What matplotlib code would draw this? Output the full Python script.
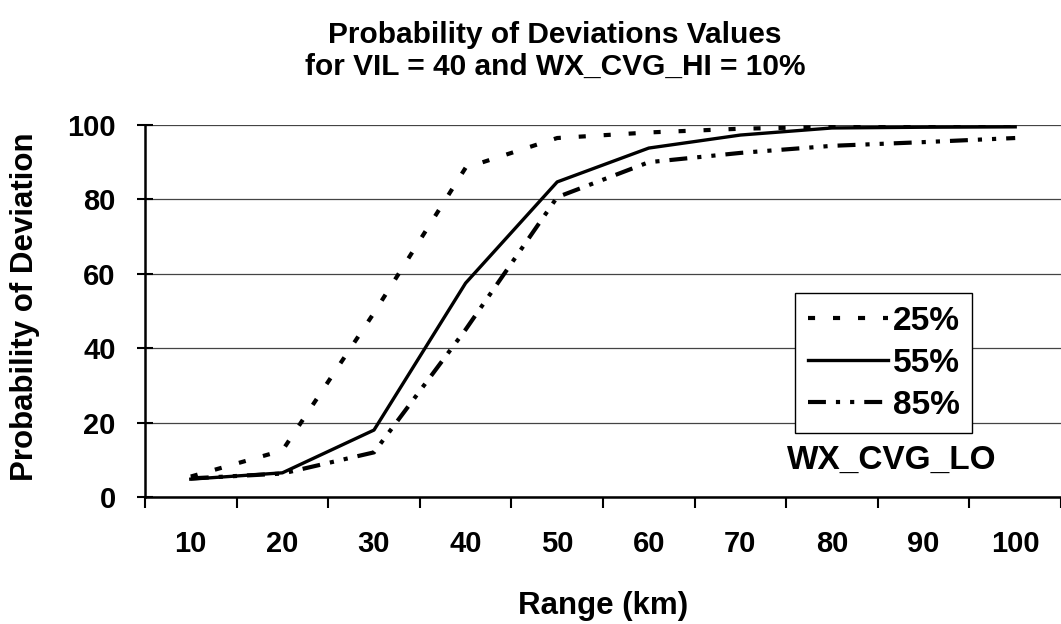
import matplotlib
matplotlib.use("Agg")
import matplotlib.pyplot as plt
from matplotlib.lines import Line2D

plt.rcParams['font.family'] = ['Liberation Sans', 'DejaVu Sans']
plt.rcParams['font.weight'] = 'bold'

categories = ['10', '20', '30', '40', '50', '60', '70', '80', '90', '100']
series_names = ['25%', '55%', '85%']
p25 = [5.5, 12.5, 49.5, 88.5, 96.5, 98.0, 99.0, 99.5, 99.8, 100.0]
p55 = [4.8, 6.5, 18.0, 57.5, 84.7, 93.8, 97.3, 99.2, 99.4, 99.5]
p85 = [5.0, 6.3, 12.0, 45.0, 80.6, 90.0, 92.5, 94.4, 95.4, 96.5]
yticks = [0, 20, 40, 60, 80, 100]

W, H = 1061, 624
fig = plt.figure(figsize=(W / 100, H / 100), dpi=100)
ax = fig.add_axes([145 / W, 1 - 497 / H, (W - 145) / W, (497 - 125) / H])

x = list(range(len(categories)))
lw_solid = 2.4
lw_dash = 3.0
dot_style = (1.7, 4.3)
dashdot_style = (4.3, 2.4, 1.0, 2.4, 1.0, 2.4)

ax.plot(x, p25, color='black', lw=lw_dash, dashes=dot_style, dash_capstyle='butt')
ax.plot(x, p55, color='black', lw=lw_solid)
ax.plot(x, p85, color='black', lw=lw_dash, dashes=dashdot_style, dash_capstyle='butt')

ax.set_xlim(-0.5, -0.5 + (W - 145) / 92.5)
ax.set_ylim(0, 100)

ax.set_yticks(yticks)
ax.set_yticklabels([str(v) for v in yticks], fontsize=21, fontweight='bold')
ax.yaxis.grid(True, color='#444444', lw=0.9)
ax.set_axisbelow(True)

ax.set_xticks([i - 0.5 for i in range(len(categories) + 1)])
ax.set_xticklabels([])
ax.set_xticks(x, minor=True)
ax.set_xticklabels(categories, minor=True, fontsize=21, fontweight='bold')
ax.tick_params(axis='x', which='major', direction='out', length=8, width=1.5)
ax.tick_params(axis='x', which='minor', length=0, pad=24)
ax.tick_params(axis='y', direction='inout', length=12, width=1.5, pad=15)

for s in ['top', 'right']:
    ax.spines[s].set_visible(False)
ax.spines['left'].set_linewidth(1.8)
ax.spines['bottom'].set_linewidth(1.8)

fig.text(555 / W, 1 - 35 / H, 'Probability of Deviations Values', ha='center', va='center',
         fontsize=21.5, fontweight='bold')
fig.text(555 / W, 1 - 67 / H, 'for VIL = 40 and WX_CVG_HI = 10%', ha='center', va='center',
         fontsize=21.5, fontweight='bold')
fig.text(603 / W, 1 - 606 / H, 'Range (km)', ha='center', va='center', fontsize=22.5, fontweight='bold')
fig.text(25 / W, 1 - 307 / H, 'Probability of Deviation', ha='center', va='center', rotation=90,
         fontsize=22.5, fontweight='bold')

handles = [
    Line2D([], [], color='black', lw=lw_dash, dashes=dot_style, dash_capstyle='butt'),
    Line2D([], [], color='black', lw=lw_solid),
    Line2D([], [], color='black', lw=lw_dash, dashes=dashdot_style, dash_capstyle='butt'),
]
leg = fig.legend(handles, series_names, loc='upper left',
                 bbox_to_anchor=(795 / W, 1 - 293 / H),
                 handlelength=2.4, handletextpad=0.15, labelspacing=0.33,
                 borderpad=0.38, borderaxespad=0, fancybox=False, framealpha=1,
                 edgecolor='black', prop={'weight': 'bold', 'size': 24})
leg.get_frame().set_linewidth(1.0)
fig.text(892 / W, 1 - 460 / H, 'WX_CVG_LO', ha='center', va='center', fontsize=24, fontweight='bold')

fig.savefig('out.png', dpi=100)
